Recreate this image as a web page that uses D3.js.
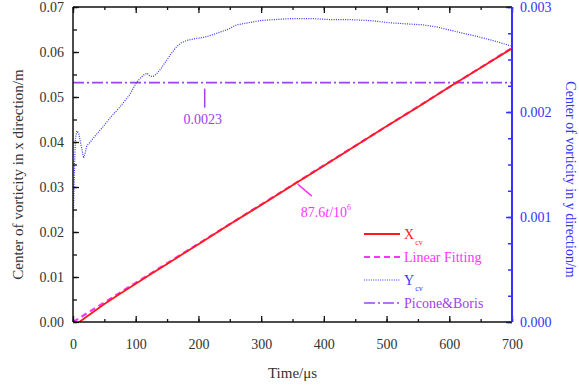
<!DOCTYPE html>
<html><head><meta charset="utf-8">
<script src="https://cdn.jsdelivr.net/npm/d3@7"></script>
<style>body{margin:0;background:#fff}svg{display:block}text{font-family:"Liberation Serif","Times New Roman",serif}</style>
</head><body><svg id="c" width="579" height="389"></svg>
<script>
// ---- data ----
const xTicks = [0,100,200,300,400,500,600,700];
const yLeftTicks = [0.00,0.01,0.02,0.03,0.04,0.05,0.06,0.07];
const yRightTicks = [0.000,0.001,0.002,0.003];
// X_cv (left axis)
const xcvT = [10,30,50,75,100,125,150,175,200,250,300,350,400,450,500,550,600,650,700];
const xcvV = [0.0000,0.0020,0.0040,0.0063,0.0085,0.0107,0.0129,0.0151,0.0173,0.0217,0.0260,0.0304,0.0347,0.0391,0.0435,0.0478,0.0522,0.0565,0.0608];
// Linear fitting (left axis)
const fitT = [0,700];
const fitV = [0.0000,0.0609];
// Y_cv (right axis)
const ycvT = [0,1,2,3,4,6,9,13,17,19,22,27,35,48,60,75,90,101,107,112,118,123,128,133,141,149,157,165,173,181,195,208,220,234,248,261,280,298,320,351,380,410,442,475,505,530,558,580,601,622,644,670,698];
const ycvV = [0.00100,0.00110,0.00135,0.00160,0.00175,0.00182,0.00180,0.00168,0.00156,0.00160,0.00168,0.00171,0.00177,0.00186,0.00195,0.00205,0.00216,0.00228,0.00232,0.00235,0.00237,0.00234,0.00234,0.00236,0.00242,0.00249,0.00256,0.00262,0.00266,0.00268,0.00270,0.00271,0.00273,0.00276,0.00279,0.00283,0.00285,0.00287,0.00288,0.00289,0.00289,0.00288,0.00288,0.00287,0.00285,0.00284,0.00283,0.00281,0.00278,0.00275,0.00272,0.00268,0.00263];
// Picone & Boris (right axis)
const piconeT = [0,700];
const piconeV = [0.00228,0.00228];
const piconeLabel = "0.0023";

const svg = d3.select("#c");
const L=73,R=512,T=7,B=322;
const x = d3.scaleLinear().domain([0,700]).range([L,R]);
const yl = d3.scaleLinear().domain([0,0.07]).range([B,T]);
const yr = d3.scaleLinear().domain([0,0.003]).range([B,T]);

const blue="#3333ff", red="#ff1a1a", mag="#ff33ff", purp="#a040f0";

svg.append("clipPath").attr("id","cl").append("rect").attr("x",L).attr("y",T).attr("width",R-L).attr("height",B-T);
const g = svg.append("g").attr("clip-path","url(#cl)");

g.append("path").datum(piconeT.map((t,i)=>[t,piconeV[i]]))
 .attr("d",d3.line().x(d=>x(d[0])).y(d=>yr(d[1])))
 .attr("fill","none").attr("stroke",purp).attr("stroke-width",1.6).attr("stroke-dasharray","11,3,2,3");
g.append("path").datum(ycvT.map((t,i)=>[t,ycvV[i]]))
 .attr("d",d3.line().x(d=>x(d[0])).y(d=>yr(d[1])))
 .attr("fill","none").attr("stroke",blue).attr("stroke-width",1.2).attr("stroke-dasharray","1,1.3");
g.append("path").datum(fitT.map((t,i)=>[t,fitV[i]]))
 .attr("d",d3.line().x(d=>x(d[0])).y(d=>yl(d[1])))
 .attr("fill","none").attr("stroke",mag).attr("stroke-width",2.2).attr("stroke-dasharray","6,4");
g.append("path").datum(xcvT.map((t,i)=>[t,xcvV[i]]))
 .attr("d",d3.line().x(d=>x(d[0])).y(d=>yl(d[1])))
 .attr("fill","none").attr("stroke",red).attr("stroke-width",1.8);

const fmt2 = d3.format(".2f"), fmt3=d3.format(".3f");
const minorX = d3.range(0,701,50);
const ax = svg.append("g");
ax.append("g").attr("transform",`translate(0,${B})`)
  .call(d3.axisBottom(x).tickValues(minorX).tickSize(-3).tickFormat(""))
  .call(a=>a.select(".domain").remove()).selectAll("line").attr("stroke","#111").attr("stroke-width",1.3);
ax.append("g").attr("transform",`translate(0,${B})`)
  .call(d3.axisBottom(x).tickValues(xTicks).tickSize(-6).tickPadding(17).tickFormat(d3.format("d")))
  .call(a=>{a.select(".domain").remove();a.selectAll("line").attr("stroke","#111").attr("stroke-width",1.3);
    a.selectAll("text").attr("font-size",14).attr("fill","#333").attr("font-family","Liberation Serif");});
ax.append("g").attr("transform",`translate(0,${T})`)
  .call(d3.axisTop(x).tickValues(minorX).tickSize(-3).tickFormat(""))
  .call(a=>a.select(".domain").remove()).selectAll("line").attr("stroke","#111").attr("stroke-width",1.3);
ax.append("g").attr("transform",`translate(0,${T})`)
  .call(d3.axisTop(x).tickValues(xTicks).tickSize(-6).tickFormat(""))
  .call(a=>a.select(".domain").remove()).selectAll("line").attr("stroke","#111").attr("stroke-width",1.3);
ax.append("g").attr("transform",`translate(${L},0)`)
  .call(d3.axisLeft(yl).tickValues(d3.range(0,15).map(i=>i*0.005)).tickSize(-4).tickFormat(""))
  .call(a=>a.select(".domain").remove()).selectAll("line").attr("stroke","#111").attr("stroke-width",1.3);
ax.append("g").attr("transform",`translate(${L},0)`)
  .call(d3.axisLeft(yl).tickValues(yLeftTicks).tickSize(-6).tickPadding(9).tickFormat(fmt2))
  .call(a=>{a.select(".domain").remove();a.selectAll("line").attr("stroke","#111").attr("stroke-width",1.3);
    a.selectAll("text").attr("font-size",14).attr("fill","#333").attr("font-family","Liberation Serif");});
ax.append("g").attr("transform",`translate(${R},0)`)
  .call(d3.axisRight(yr).tickValues(d3.range(0,13).map(i=>i*0.00025)).tickSize(-4).tickFormat(""))
  .call(a=>a.select(".domain").remove()).selectAll("line").attr("stroke",blue).attr("stroke-width",1.5);
ax.append("g").attr("transform",`translate(${R},0)`)
  .call(d3.axisRight(yr).tickValues(yRightTicks).tickSize(-6).tickPadding(8).tickFormat(fmt3))
  .call(a=>{a.select(".domain").remove();a.selectAll("line").attr("stroke",blue).attr("stroke-width",1.5);
    a.selectAll("text").attr("font-size",14).attr("fill",blue).attr("font-family","Liberation Serif");});
ax.append("line").attr("x1",L).attr("x2",R).attr("y1",B).attr("y2",B).attr("stroke","#111").attr("stroke-width",1.3);
ax.append("line").attr("x1",L).attr("x2",R).attr("y1",T).attr("y2",T).attr("stroke","#111").attr("stroke-width",1.3);
ax.append("line").attr("x1",L).attr("x2",L).attr("y1",T).attr("y2",B).attr("stroke","#111").attr("stroke-width",1.5);
ax.append("line").attr("x1",R).attr("x2",R).attr("y1",T).attr("y2",B).attr("stroke",blue).attr("stroke-width",2);

svg.append("text").attr("x",(L+R)/2).attr("y",378).attr("text-anchor","middle").attr("font-size",15).attr("fill","#333").text("Time/μs");
svg.append("text").attr("transform",`translate(23,${(T+B)/2+10}) rotate(-90)`).attr("text-anchor","middle").attr("font-size",15).attr("fill","#333").text("Center of vorticity in x direction/m");
svg.append("text").attr("transform",`translate(566,${(T+B)/2+15}) rotate(90)`).attr("text-anchor","middle").attr("font-size",14).attr("fill",blue).text("Center of vorticity in y direction/m");

const px = x(210);
svg.append("line").attr("x1",px).attr("x2",px).attr("y1",yr(piconeV[0])+6).attr("y2",yr(piconeV[0])+25).attr("stroke",purp).attr("stroke-width",1.5);
svg.append("text").attr("x",px-2).attr("y",124).attr("text-anchor","middle").attr("font-size",14).attr("fill",purp).text(piconeLabel);

const at = 360;
svg.append("line").attr("x1",x(at)-1).attr("y1",yl(0.0313)+3).attr("x2",x(at)+13).attr("y2",yl(0.0313)+15).attr("stroke",mag).attr("stroke-width",1.5);
const an = svg.append("text").attr("x",x(at)+2).attr("y",217).attr("font-size",14).attr("fill",mag);
an.append("tspan").text("87.6");
an.append("tspan").attr("font-style","italic").text("t");
an.append("tspan").text("/10");
an.append("tspan").attr("font-size",8).attr("dy",-7).text("6");

const leg = [
 {name:"X",sub:"cv",color:red,dash:null,w:1.8},
 {name:"Linear Fitting",sub:null,color:mag,dash:"6,4",w:2.2},
 {name:"Y",sub:"cv",color:blue,dash:"1,1.3",w:1.2},
 {name:"Picone&Boris",sub:null,color:purp,dash:"11,3,2,3",w:1.6}
];
leg.forEach((d,i)=>{
  const yy = 234 + i*23;
  svg.append("line").attr("x1",364).attr("x2",400).attr("y1",yy).attr("y2",yy)
    .attr("stroke",d.color).attr("stroke-width",d.w).attr("stroke-dasharray",d.dash);
  const t = svg.append("text").attr("x",404).attr("y",yy+5).attr("font-size",14).attr("fill",d.color);
  t.append("tspan").text(d.name);
  if(d.sub) t.append("tspan").attr("font-size",8).attr("dy",6).attr("dx",1).text(d.sub);
});
</script></body></html>
